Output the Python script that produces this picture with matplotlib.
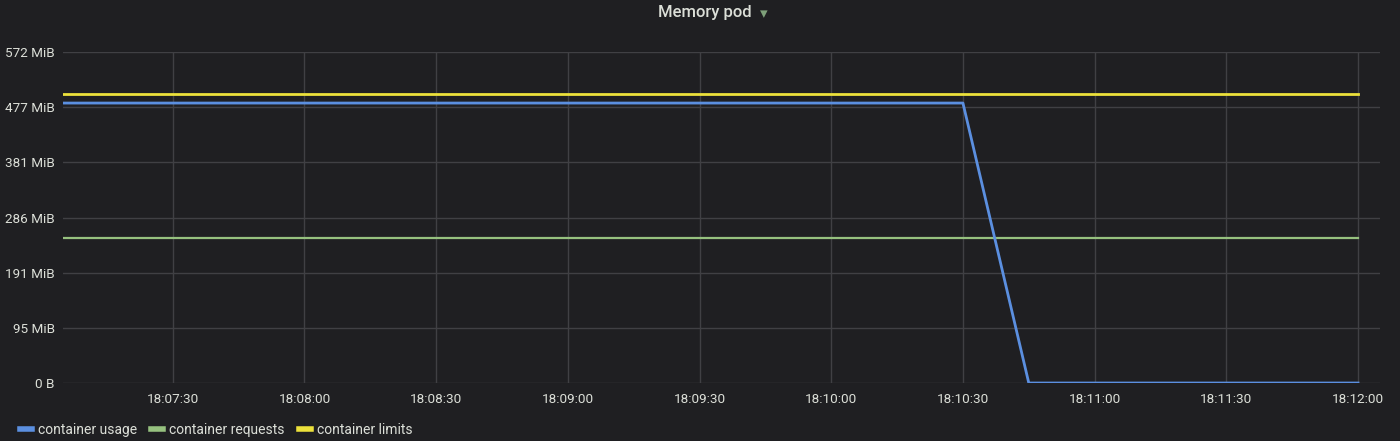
import datetime as dt

import matplotlib
matplotlib.use('Agg')
import matplotlib.pyplot as plt
import matplotlib.dates as mdates
from matplotlib.ticker import FixedLocator

plt.rcParams['font.family'] = ['Roboto', 'DejaVu Sans']

day = dt.datetime(2020, 1, 1)
def t(s):
    h, m, sec = [int(v) for v in s.split(':')]
    return day.replace(hour=h, minute=m, second=sec)

MIB = 1024 * 1024

# series (times as hh:mm:ss, values in MiB)
usage_times = ['18:07:05', '18:10:30', '18:10:45', '18:12:00']
usage_mib = [484, 484, 0, 0]
requests_times = ['18:07:05', '18:12:00']
requests_mib = [250, 250]
limits_times = ['18:07:05', '18:12:00']
limits_mib = [500, 500]

series_names = ['container usage', 'container requests', 'container limits']

y_ticks_bytes = [0, 100e6, 200e6, 300e6, 400e6, 500e6, 600e6]
x_ticks = ['18:07:30', '18:08:00', '18:08:30', '18:09:00', '18:09:30',
           '18:10:00', '18:10:30', '18:11:00', '18:11:30', '18:12:00']
x_start, x_end = '18:07:05', '18:12:05'

bg = '#1f1f22'
txt = '#dcdfd8'
grid = '#404044'

fig = plt.figure(figsize=(14, 4.41), dpi=100, facecolor=bg)
ax = fig.add_axes([0.045, 0.1315, 0.9407, 0.7505])
ax.set_facecolor(bg)

def mib_label(b):
    if b == 0:
        return '0 B'
    return '%d MiB' % round(b / MIB)

ax.plot([t(s) for s in usage_times], [v * MIB for v in usage_mib],
        color='#5b8fe0', lw=2.0, label=series_names[0], zorder=4)
ax.plot([t(s) for s in requests_times], [v * MIB for v in requests_mib],
        color='#96c17f', lw=1.6, label=series_names[1], zorder=3)
ax.plot([t(s) for s in limits_times], [v * MIB for v in limits_mib],
        color='#ece13b', lw=2.0, label=series_names[2], zorder=3)

ax.set_xlim(t(x_start), t(x_end))
ax.set_ylim(0, 600e6)
ax.yaxis.set_major_locator(FixedLocator(y_ticks_bytes))
ax.set_yticklabels([mib_label(b) for b in y_ticks_bytes])
ax.set_xticks([t(s) for s in x_ticks])
ax.xaxis.set_major_formatter(mdates.DateFormatter('%H:%M:%S'))

ax.grid(True, color=grid, lw=1.0, zorder=0)
for sp in ax.spines.values():
    sp.set_visible(False)
ax.tick_params(axis='both', length=0, colors=txt, labelsize=9.7)
ax.tick_params(axis='y', pad=6)
ax.tick_params(axis='x', pad=7)

fig.text(0.5033, 0.972, 'Memory pod', ha='center', va='center', color=txt,
         fontsize=12, fontweight='medium')
fig.text(0.5455, 0.970, '\u25be', ha='center', va='center', color='#7ea07a',
         fontsize=11, family=['DejaVu Sans'])

leg = fig.legend(loc='lower left', bbox_to_anchor=(0.005, -0.02), ncol=3,
                 frameon=False, fontsize=10, handlelength=0.9,
                 handletextpad=0.4, columnspacing=1.02)
for text in leg.get_texts():
    text.set_color(txt)
for line in leg.get_lines():
    line.set_linewidth(4)

fig.savefig('out.png', dpi=100, facecolor=bg)
